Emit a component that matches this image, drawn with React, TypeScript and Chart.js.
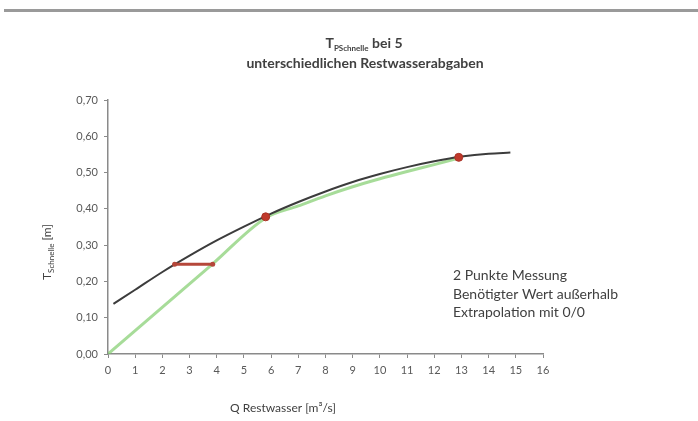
import React, { useEffect, useRef } from "react";
import { Chart, registerables } from "chart.js";

Chart.register(...registerables);

const blackX = [0.2, 1, 2, 3, 4, 5, 6, 7, 8, 9, 10, 11, 12, 13, 14, 14.8];
const blackY = [0.138, 0.177, 0.226, 0.271, 0.313, 0.351, 0.387, 0.419, 0.448, 0.474, 0.496, 0.515, 0.531, 0.544, 0.552, 0.555];

const greenX = [0, 3.8, 5.8, 7, 8, 9, 10, 11, 12, 12.9];
const greenY = [0, 0.245, 0.375, 0.408, 0.436, 0.461, 0.483, 0.503, 0.522, 0.54];

const redSegX = [2.45, 3.85];
const redSegY = [0.247, 0.247];

const redDotX = [5.8, 12.9];
const redDotY = [0.378, 0.542];

const notes = ["2 Punkte Messung", "Benötigter Wert außerhalb", "Extrapolation mit 0/0"];

const FONT = "Lato, 'Open Sans', sans-serif";

const pts = (xs: number[], ys: number[]) => xs.map((x, i) => ({ x, y: ys[i] }));

const decor = {
  id: "decor",
  afterDraw(chart: any) {
    const ctx = chart.ctx as CanvasRenderingContext2D;
    ctx.save();
    ctx.fillStyle = "#9a9a9a";
    ctx.fillRect(4, 9, 694, 3);
    ctx.fillStyle = "#404040";
    ctx.textBaseline = "alphabetic";
    const big = `bold 14px ${FONT}`;
    const small = `bold 8px ${FONT}`;
    ctx.font = big;
    const wT = ctx.measureText("T").width;
    const wRest = ctx.measureText(" bei 5").width;
    ctx.font = small;
    const wSub = ctx.measureText("PSchnelle").width;
    const total = wT + wSub + wRest;
    let x = 364 - total / 2;
    ctx.font = big;
    ctx.textAlign = "left";
    ctx.fillText("T", x, 48);
    x += wT;
    ctx.font = small;
    ctx.fillText("PSchnelle", x, 51);
    x += wSub;
    ctx.font = big;
    ctx.fillText(" bei 5", x, 48);
    ctx.textAlign = "center";
    ctx.fillText("unterschiedlichen Restwasserabgaben", 365, 68);

    ctx.save();
    ctx.translate(51, 252);
    ctx.rotate(-Math.PI / 2);
    const yBig = `12px ${FONT}`;
    const ySmall = `8px ${FONT}`;
    ctx.font = yBig;
    const a = ctx.measureText("T").width;
    const c = ctx.measureText(" [m]").width;
    ctx.font = ySmall;
    const b = ctx.measureText("Schnelle").width;
    let yx = -(a + b + c) / 2;
    ctx.textAlign = "left";
    ctx.fillStyle = "#404040";
    ctx.font = yBig;
    ctx.fillText("T", yx, 0);
    yx += a;
    ctx.font = ySmall;
    ctx.fillText("Schnelle", yx, 3);
    yx += b;
    ctx.font = yBig;
    ctx.fillText(" [m]", yx, 0);
    ctx.restore();

    ctx.textAlign = "center";
    ctx.font = `12px ${FONT}`;
    ctx.fillText("Q Restwasser [m³/s]", 283, 412);

    ctx.textAlign = "left";
    ctx.font = `14px ${FONT}`;
    notes.forEach((t, i) => ctx.fillText(t, 453, 280 + i * 18.5));
    ctx.restore();
  },
};

export default function App() {
  const ref = useRef<HTMLCanvasElement | null>(null);
  useEffect(() => {
    document.body.style.margin = "0";
    document.body.style.background = "#ffffff";
    const chart = new Chart(ref.current as HTMLCanvasElement, {
      type: "scatter",
      data: {
        datasets: [
          {
            label: "green",
            data: pts(greenX, greenY),
            showLine: true,
            borderColor: "rgba(130,205,110,0.7)",
            borderWidth: 3,
            pointRadius: 0,
            cubicInterpolationMode: "monotone",
            order: 3,
          },
          {
            label: "black",
            data: pts(blackX, blackY),
            showLine: true,
            borderColor: "#3c3c3c",
            borderWidth: 2,
            pointRadius: 0,
            cubicInterpolationMode: "monotone",
            order: 2,
          },
          {
            label: "redseg",
            data: pts(redSegX, redSegY),
            showLine: true,
            borderColor: "#b5473a",
            borderWidth: 3,
            pointRadius: 2.5,
            pointBackgroundColor: "#b5473a",
            pointBorderWidth: 0,
            order: 1,
          },
          {
            label: "reddots",
            data: pts(redDotX, redDotY),
            showLine: false,
            pointRadius: 4,
            pointBackgroundColor: "#c0392b",
            pointBorderColor: "#a93226",
            pointBorderWidth: 1,
            order: 0,
          },
        ],
      },
      options: {
        animation: false,
        responsive: false,
        devicePixelRatio: 1,
        layout: { padding: { left: 0, right: 155, top: 100, bottom: 0 } },
        plugins: { legend: { display: false }, tooltip: { enabled: false }, title: { display: false } },
        scales: {
          x: {
            type: "linear",
            min: 0,
            max: 16,
            afterFit: (s: any) => { s.height = 67; },
            border: { color: "#8a8a8a", width: 1.5 },
            grid: { drawOnChartArea: false, tickLength: 4, color: "#8a8a8a", lineWidth: 1 },
            ticks: { stepSize: 1, color: "#595959", font: { family: FONT, size: 11 }, padding: 6, maxRotation: 0 },
          },
          y: {
            type: "linear",
            min: 0,
            max: 0.7,
            afterFit: (s: any) => { s.width = 108; },
            border: { color: "#8a8a8a", width: 1.5 },
            grid: { drawOnChartArea: false, tickLength: 4, color: "#8a8a8a", lineWidth: 1 },
            ticks: {
              stepSize: 0.1,
              color: "#595959",
              font: { family: FONT, size: 11 },
              padding: 6,
              callback: (v: any) => Number(v).toFixed(2).replace(".", ","),
            },
          },
        },
      },
      plugins: [decor],
    });
    return () => chart.destroy();
  }, []);
  return <canvas ref={ref} width={698} height={421} style={{ display: "block" }} />;
}
